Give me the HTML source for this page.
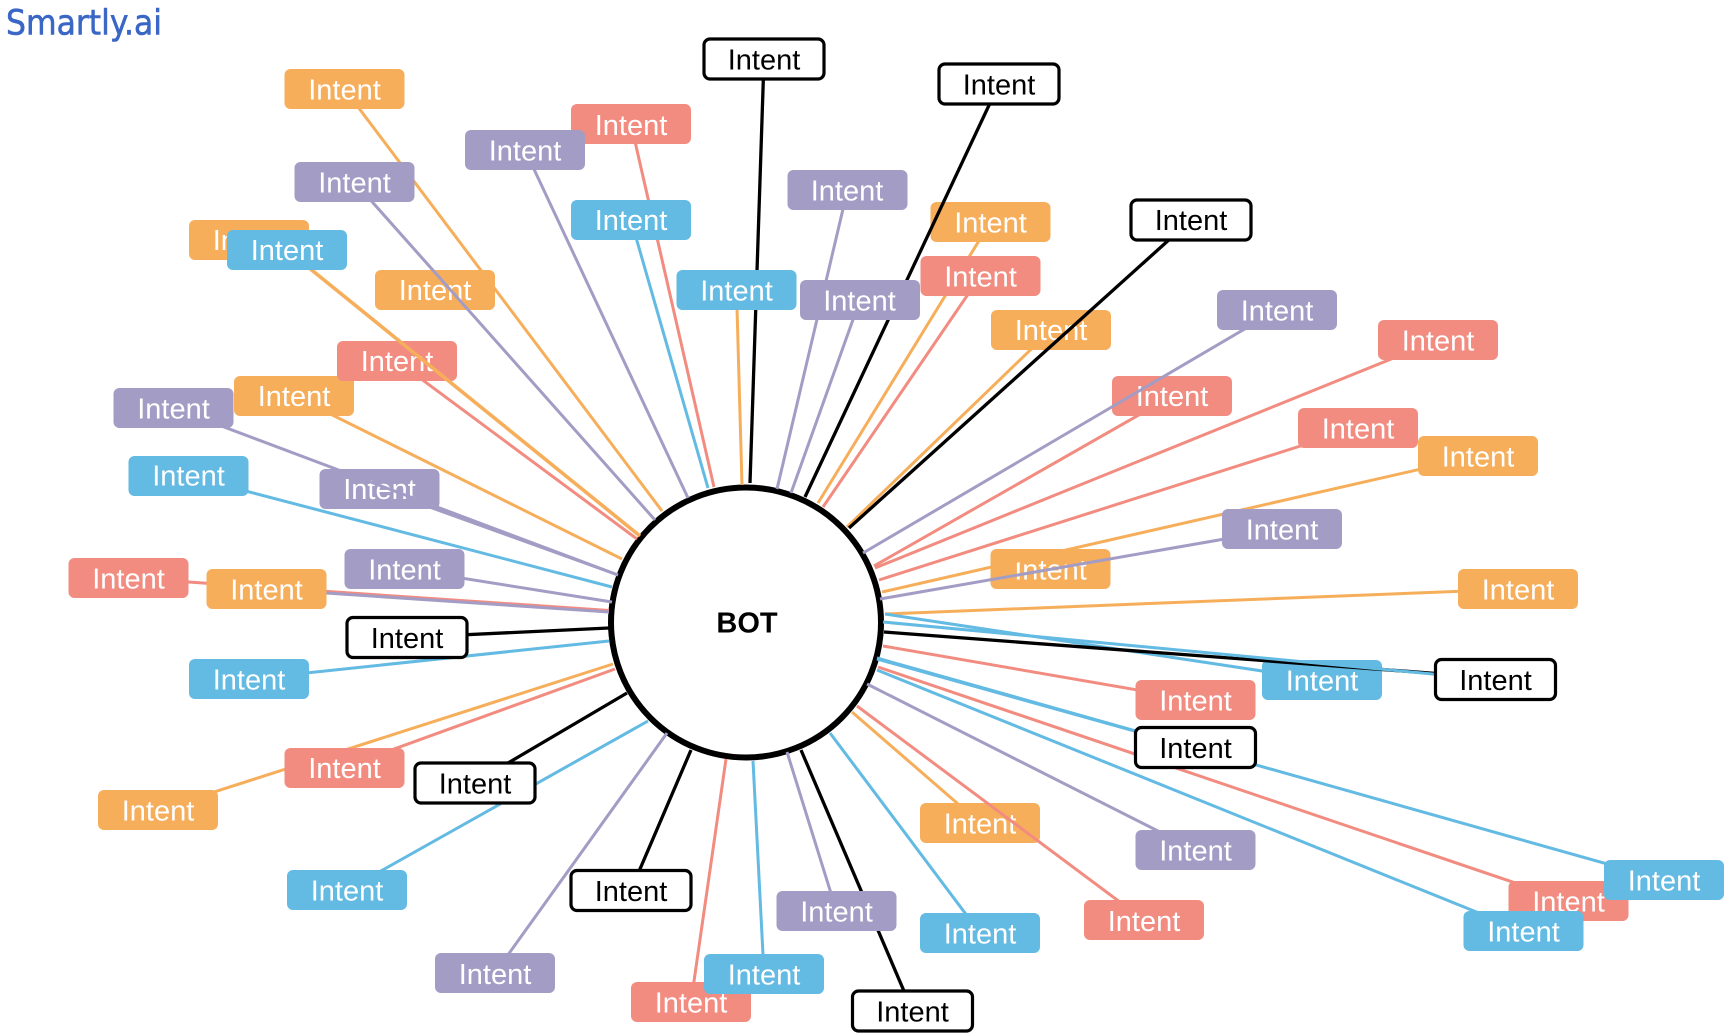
<!DOCTYPE html>
<html lang="en">
<head>
<meta charset="utf-8">
<title>Smartly.ai bot intents</title>
<style>
html,body{margin:0;padding:0;background:#fff;}
svg{display:block;position:absolute;left:0;top:0;}
.o{stroke:#f6ae5b}.p{stroke:#a39cc4}.r{stroke:#f28c80}.b{stroke:#63bae2}.k{stroke:#000;stroke-width:3.3}
line{stroke-width:3}
rect.fo{fill:#f6ae5b}rect.fp{fill:#a39cc4}rect.fr{fill:#f28c80}rect.fb{fill:#63bae2}
rect.fk{fill:#fff;stroke:#000;stroke-width:3.2}
text{font-family:"Liberation Sans",sans-serif;font-size:29px;text-anchor:middle;fill:#fff}
text.t{fill:#000}
</style>
</head>
<body>
<svg width="1726" height="1033" viewBox="0 0 1726 1033" xmlns="http://www.w3.org/2000/svg">
<rect width="1726" height="1033" fill="#fff"/>
<text x="6" y="34.5" style="font-family:'DejaVu Sans',sans-serif;font-size:35px;text-anchor:start;fill:#3a66c5;stroke:#3a66c5;stroke-width:0.6" textLength="156" lengthAdjust="spacingAndGlyphs">Smartly.ai</text>

<circle cx="746" cy="622.5" r="135" fill="#fff" stroke="#000" stroke-width="6"/>
<text x="747" y="632.5" class="t" style="font-weight:bold">BOT</text>

<!-- base lines -->
<line class="o" x1="736.5" y1="290" x2="742" y2="485"/>
<line class="k" x1="764" y1="59" x2="750" y2="483"/>
<line class="p" x1="847.5" y1="190" x2="777" y2="489"/>
<line class="p" x1="860" y1="300" x2="791" y2="493"/>
<line class="o" x1="990.5" y1="222" x2="818" y2="503"/>
<line class="r" x1="980.5" y1="276" x2="823" y2="507"/>
<line class="o" x1="1051" y1="330" x2="847" y2="527"/>
<line class="r" x1="1172" y1="396" x2="874" y2="566"/>
<line class="r" x1="1438" y1="340" x2="875" y2="568"/>
<line class="r" x1="1357" y1="428" x2="879" y2="580"/>
<line class="o" x1="1518" y1="589" x2="885" y2="614"/>
<line class="b" x1="1322" y1="680" x2="885" y2="614"/>
<line class="r" x1="1195.5" y1="700" x2="883" y2="646"/>
<line class="b" x1="1664" y1="880" x2="877" y2="658"/>
<line class="b" x1="1195" y1="748" x2="877" y2="659"/>
<line class="r" x1="1568.5" y1="901" x2="878" y2="667"/>
<line class="b" x1="1523.5" y1="931" x2="877" y2="670"/>
<line class="p" x1="1195.5" y1="850" x2="867" y2="684"/>
<line class="o" x1="980" y1="823" x2="852" y2="712"/>
<line class="b" x1="980" y1="933" x2="830" y2="733"/>
<line class="k" x1="912.5" y1="1011" x2="801" y2="750"/>
<line class="p" x1="836.5" y1="911" x2="787" y2="752"/>
<line class="b" x1="764" y1="974" x2="753" y2="761"/>
<line class="r" x1="691" y1="1002" x2="726" y2="759"/>
<line class="k" x1="631" y1="890" x2="691" y2="750"/>
<line class="p" x1="495" y1="973" x2="667" y2="733"/>
<line class="b" x1="347" y1="890" x2="648" y2="721"/>
<line class="k" x1="474" y1="783" x2="627" y2="693"/>
<line class="r" x1="344.5" y1="767" x2="615" y2="669"/>
<line class="o" x1="158" y1="810" x2="613" y2="664"/>
<line class="b" x1="249" y1="679" x2="609" y2="641"/>
<line class="k" x1="407" y1="637.5" x2="609" y2="628"/>
<line class="r" x1="128.5" y1="578" x2="609" y2="610.5"/>
<line class="p" x1="266.5" y1="589" x2="609" y2="612"/>
<line class="p" x1="404.5" y1="569" x2="612" y2="602"/>
<line class="b" x1="188.5" y1="476" x2="612" y2="587"/>
<line class="p" x1="379.5" y1="489" x2="618" y2="575"/>
<line class="o" x1="294" y1="396" x2="622" y2="559"/>
<line class="r" x1="397" y1="361" x2="637" y2="539"/>
<line class="o" x1="344.5" y1="89" x2="662" y2="511"/>
<line class="p" x1="525" y1="150" x2="688" y2="498"/>
<line class="b" x1="631" y1="220" x2="708" y2="488"/>
<line class="r" x1="631" y1="124" x2="714" y2="487"/>

<!-- boxes that get crossed by lines -->
<rect class="fo" x="990.5" y="549" width="120" height="40" rx="6"/><text x="1050.5" y="579.3">Intent</text>
<rect class="fo" x="920" y="803" width="120" height="40" rx="6"/><text x="980" y="833.3">Intent</text>
<rect class="fo" x="234" y="376" width="120" height="40" rx="6"/><text x="294" y="406">Intent</text>
<rect class="fr" x="337" y="341" width="120" height="40" rx="6"/><text x="397" y="371">Intent</text>
<rect class="fo" x="375" y="270" width="120" height="40" rx="6"/><text x="435" y="300">Intent</text>
<rect class="fp" x="319.5" y="469" width="120" height="40" rx="6"/><text x="379.5" y="499">Intent</text>
<rect class="fo" x="991" y="310" width="120" height="40" rx="6"/><text x="1051" y="340">Intent</text>
<rect class="fr" x="1112" y="376" width="120" height="40" rx="6"/><text x="1172" y="406">Intent</text>
<rect class="fo" x="930.5" y="202" width="120" height="40" rx="6"/><text x="990.5" y="232.3">Intent</text>
<rect class="fb" x="1262" y="660" width="120" height="40" rx="6"/><text x="1322" y="690.3">Intent</text>

<!-- lines on top of those boxes -->
<line class="p" x1="1282" y1="529" x2="880" y2="599"/>
<line class="o" x1="1478" y1="456" x2="882" y2="592"/>
<line class="r" x1="1144" y1="920" x2="857" y2="706"/>
<line class="o" x1="287" y1="250" x2="640" y2="536" style="stroke-width:3.6"/>
<line class="o" x1="249" y1="240" x2="287" y2="250"/>
<line class="p" x1="354.5" y1="182" x2="655" y2="520"/>
<line class="p" x1="173.5" y1="408" x2="618" y2="575"/>
<line class="k" x1="1191" y1="220" x2="849" y2="528"/>
<line class="p" x1="1277" y1="310" x2="863" y2="553"/>
<line class="k" x1="999" y1="84" x2="805" y2="497"/>
<line class="k" x1="1495.5" y1="678" x2="884" y2="632"/>
<line class="b" x1="1495.5" y1="680" x2="883" y2="622"/>

<!-- remaining boxes -->
<rect class="fo" x="284.5" y="69" width="120" height="40" rx="6"/><text x="344.5" y="99.3">Intent</text>
<rect class="fp" x="294.5" y="162" width="120" height="40" rx="6"/><text x="354.5" y="192.3">Intent</text>
<rect class="fo" x="189" y="220" width="120" height="40" rx="6"/><text x="249" y="250">Intent</text>
<rect class="fb" x="227" y="230" width="120" height="40" rx="6"/><text x="287" y="260">Intent</text>
<rect class="fr" x="571" y="104" width="120" height="40" rx="6"/><text x="631" y="135">Intent</text>
<rect class="fp" x="465" y="130" width="120" height="40" rx="6"/><text x="525" y="160.3">Intent</text>
<rect class="fb" x="571" y="200" width="120" height="40" rx="6"/><text x="631" y="230">Intent</text>
<rect class="fk" x="704" y="39" width="120" height="40" rx="6"/><text class="t" x="764" y="69.3">Intent</text>
<rect class="fk" x="939" y="64" width="120" height="40" rx="6"/><text class="t" x="999" y="94.3">Intent</text>
<rect class="fp" x="787.5" y="170" width="120" height="40" rx="6"/><text x="847" y="200.3">Intent</text>
<rect class="fr" x="920.5" y="256" width="120" height="40" rx="6"/><text x="980.5" y="286.3">Intent</text>
<rect class="fb" x="676.5" y="270" width="120" height="40" rx="6"/><text x="736.5" y="300.3">Intent</text>
<rect class="fp" x="800" y="280" width="120" height="40" rx="6"/><text x="859.5" y="310.3">Intent</text>
<rect class="fk" x="1131" y="200" width="120" height="40" rx="6"/><text class="t" x="1191" y="230">Intent</text>
<rect class="fp" x="1217" y="290" width="120" height="40" rx="6"/><text x="1277" y="320.3">Intent</text>
<rect class="fr" x="1378" y="320" width="120" height="40" rx="6"/><text x="1438" y="350.3">Intent</text>
<rect class="fr" x="1298" y="408" width="120" height="40" rx="6"/><text x="1358" y="438.3">Intent</text>
<rect class="fo" x="1418" y="436" width="120" height="40" rx="6"/><text x="1478" y="466.3">Intent</text>
<rect class="fp" x="1222" y="509" width="120" height="40" rx="6"/><text x="1282" y="539.3">Intent</text>
<rect class="fo" x="1458" y="569" width="120" height="40" rx="6"/><text x="1518" y="599.3">Intent</text>
<rect class="fk" x="1435.5" y="659.5" width="120" height="40" rx="6"/><text class="t" x="1495.5" y="689.8">Intent</text>
<rect class="fr" x="1135.5" y="680" width="120" height="40" rx="6"/><text x="1195.5" y="710.3">Intent</text>
<rect class="fk" x="1135.5" y="727.5" width="120" height="40" rx="6"/><text class="t" x="1195.5" y="757.8">Intent</text>
<rect class="fp" x="1135.5" y="830" width="120" height="40" rx="6"/><text x="1195.5" y="860.3">Intent</text>
<rect class="fr" x="1084" y="900" width="120" height="40" rx="6"/><text x="1144" y="931">Intent</text>
<rect class="fb" x="920" y="913" width="120" height="40" rx="6"/><text x="980" y="943.3">Intent</text>
<rect class="fr" x="1508.5" y="881" width="120" height="40" rx="6"/><text x="1568.5" y="911.3">Intent</text>
<rect class="fb" x="1604" y="860" width="120" height="40" rx="6"/><text x="1664" y="890.3">Intent</text>
<rect class="fb" x="1463.5" y="911" width="120" height="40" rx="6"/><text x="1523.5" y="941.3">Intent</text>
<rect class="fk" x="852.5" y="991" width="120" height="40" rx="6"/><text class="t" x="912.5" y="1021.3">Intent</text>
<rect class="fp" x="776.5" y="891" width="120" height="40" rx="6"/><text x="836.5" y="921.3">Intent</text>
<rect class="fr" x="631" y="982" width="120" height="40" rx="6"/><text x="691" y="1012.3">Intent</text>
<rect class="fb" x="704" y="954" width="120" height="40" rx="6"/><text x="764" y="984.3">Intent</text>
<rect class="fk" x="571" y="870.5" width="120" height="40" rx="6"/><text class="t" x="631" y="900.8">Intent</text>
<rect class="fp" x="435" y="953" width="120" height="40" rx="6"/><text x="495" y="984">Intent</text>
<rect class="fb" x="287" y="870" width="120" height="40" rx="6"/><text x="347" y="900.3">Intent</text>
<rect class="fk" x="415" y="763" width="120" height="40" rx="6"/><text class="t" x="475" y="793.3">Intent</text>
<rect class="fr" x="284.5" y="748" width="120" height="40" rx="6"/><text x="344.5" y="778">Intent</text>
<rect class="fo" x="98" y="790" width="120" height="40" rx="6"/><text x="158" y="820.3">Intent</text>
<rect class="fb" x="189" y="659" width="120" height="40" rx="6"/><text x="249" y="689.3">Intent</text>
<rect class="fk" x="347" y="617.5" width="120" height="40" rx="6"/><text class="t" x="407" y="647.8">Intent</text>
<rect class="fr" x="68.5" y="558" width="120" height="40" rx="6"/><text x="128.5" y="588.3">Intent</text>
<rect class="fo" x="206.5" y="569" width="120" height="40" rx="6"/><text x="266.5" y="599.3">Intent</text>
<rect class="fp" x="344.5" y="549" width="120" height="40" rx="6"/><text x="404.5" y="579.3">Intent</text>
<rect class="fb" x="128.5" y="456" width="120" height="40" rx="6"/><text x="188.5" y="485.5">Intent</text>
<rect class="fp" x="113.5" y="388" width="120" height="40" rx="6"/><text x="173.5" y="418.3">Intent</text>
</svg>
</body>
</html>
